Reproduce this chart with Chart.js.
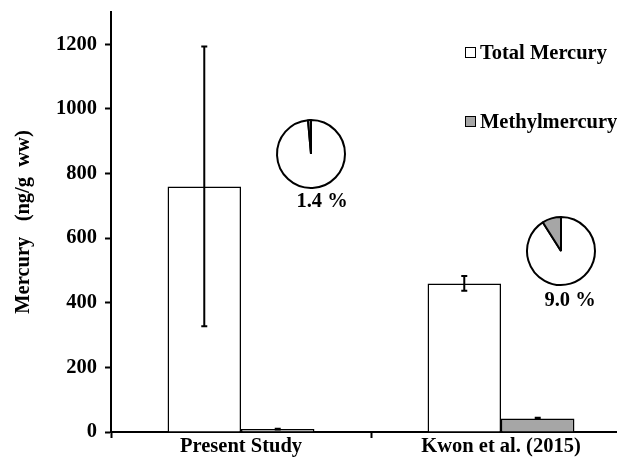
<!DOCTYPE html>
<html>
<head>
<meta charset="utf-8">
<script src="https://cdn.jsdelivr.net/npm/chart.js@4.4.0/dist/chart.umd.min.js"></script>
<style>
  html, body { margin: 0; padding: 0; background: #fff; }
  #wrap { position: relative; width: 617px; height: 465px; overflow: hidden; }
  #main { position: absolute; left: 0; top: 0; }
  .pie { position: absolute; }
  .lbl { position: absolute; font: bold 20.5px "Liberation Serif", "Times New Roman", serif; color: #000; white-space: pre; transform: translate(-50%, -50%); }
  .leg { position: absolute; font: bold 20.5px "Liberation Serif", "Times New Roman", serif; color: #000; white-space: pre; line-height: 20px; }
  .leg span { display: inline-block; width: 9px; height: 9px; border: 1.5px solid #000; margin-right: 4px; vertical-align: 1px; }
</style>
</head>
<body>
<div id="wrap">
  <canvas id="main" width="660" height="465"></canvas>
  <canvas id="pie1" class="pie" width="72" height="72"></canvas>
  <canvas id="pie2" class="pie" width="72" height="72"></canvas>
  <div id="pl1" class="lbl"></div>
  <div id="pl2" class="lbl"></div>
  <div id="leg1" class="leg"></div>
  <div id="leg2" class="leg"></div>
</div>
<script>
const categories = ["Present Study", "Kwon et al. (2015)"];
const totalHg = [760, 460];
const totalHgErr = [433, 23];
const meHg = [9, 42];
const meHgErr = [1, 2];
const yTicks = [0, 200, 400, 600, 800, 1000, 1200];
const pieLabels = ["Total Mercury", "Methylmercury"];
const piePresent = [98.6, 1.4];
const pieKwon = [91.0, 9.0];
const pieText = ["1.4 %", "9.0 %"];

const FONT = "'Liberation Serif', 'Times New Roman', serif";
const GREY = "#a6a6a6";

// error bars, drawn from the bar elements and the y scale
const errorBars = {
  id: "errorBars",
  afterDatasetsDraw(chart) {
    const ctx = chart.ctx;
    const y = chart.scales.y;
    chart.data.datasets.forEach((ds, i) => {
      const meta = chart.getDatasetMeta(i);
      meta.data.forEach((bar, j) => {
        const v = ds.data[j], e = ds.errors[j];
        const top = y.getPixelForValue(v + e);
        const bot = y.getPixelForValue(v - e);
        ctx.save();
        ctx.strokeStyle = "#000";
        ctx.lineWidth = 2;
        ctx.beginPath();
        ctx.moveTo(bar.x, top); ctx.lineTo(bar.x, bot);
        ctx.moveTo(bar.x - 3, top); ctx.lineTo(bar.x + 3, top);
        ctx.moveTo(bar.x - 3, bot); ctx.lineTo(bar.x + 3, bot);
        ctx.stroke();
        ctx.restore();
      });
    });
  }
};

new Chart(document.getElementById("main"), {
  type: "bar",
  data: {
    labels: categories,
    datasets: [
      { label: pieLabels[0], data: totalHg, errors: totalHgErr, backgroundColor: "#fff",
        borderColor: "#000", borderWidth: 1.5, categoryPercentage: 0.565, barPercentage: 1.0 },
      { label: pieLabels[1], data: meHg, errors: meHgErr, backgroundColor: GREY,
        borderColor: "#000", borderWidth: 1.5, categoryPercentage: 0.565, barPercentage: 1.0 }
    ]
  },
  options: {
    responsive: false,
    animation: false,
    events: [],
    layout: { padding: { top: 12, right: 29, bottom: 0, left: 0 } },
    plugins: { legend: { display: false }, tooltip: { enabled: false } },
    scales: {
      x: {
        grid: { display: true, drawOnChartArea: false, offset: true, tickLength: 6, tickWidth: 2, tickColor: "#000" },
        border: { display: true, color: "#000", width: 2 },
        ticks: { color: "#000", font: { family: FONT, size: 20.5, weight: "bold" }, padding: -4, maxRotation: 0 },
        afterFit(s) { s.height = 33; s.paddingLeft = 0; s.paddingRight = 0; }
      },
      y: {
        min: 0, max: 1300,
        grid: { display: true, drawOnChartArea: false, tickLength: 6, tickWidth: 2, tickColor: "#000" },
        border: { display: true, color: "#000", width: 2 },
        ticks: { stepSize: 200, color: "#000", font: { family: FONT, size: 20.5, weight: "bold" }, padding: 8,
                 callback: v => String(v) },
        afterBuildTicks(s) { s.ticks = yTicks.map(v => ({ value: v })); },
        title: { display: true, text: "Mercury   (ng/g  ww)", color: "#000",
                 font: { family: FONT, size: 20.5, weight: "bold" }, padding: { top: 11, bottom: 0 } },
        afterFit(s) { s.width = 111; s.paddingTop = 0; s.paddingBottom = 0; }
      }
    }
  },
  plugins: [errorBars]
});

function makePie(id, data, left, top) {
  const el = document.getElementById(id);
  el.style.left = left + "px";
  el.style.top = top + "px";
  new Chart(el, {
    type: "pie",
    data: { labels: pieLabels, datasets: [{ data: data, backgroundColor: ["#fff", GREY], borderColor: "#000", borderWidth: 2 }] },
    options: { responsive: false, animation: false, events: [], layout: { padding: 1 },
               plugins: { legend: { display: false }, tooltip: { enabled: false } } }
  });
}
makePie("pie1", piePresent, 275, 118);
makePie("pie2", pieKwon, 525, 215);

function place(id, text, x, y) {
  const el = document.getElementById(id);
  el.textContent = text;
  el.style.left = x + "px";
  el.style.top = y + "px";
}
place("pl1", pieText[0], 322, 200);
place("pl2", pieText[1], 570, 299);

function legend(id, label, color, x, y) {
  const el = document.getElementById(id);
  el.innerHTML = '<span style="background:' + color + '"></span>' + label;
  el.style.left = x + "px";
  el.style.top = y + "px";
}
legend("leg1", pieLabels[0], "#fff", 465, 42);
legend("leg2", pieLabels[1], GREY, 465, 111);
</script>
</body>
</html>
